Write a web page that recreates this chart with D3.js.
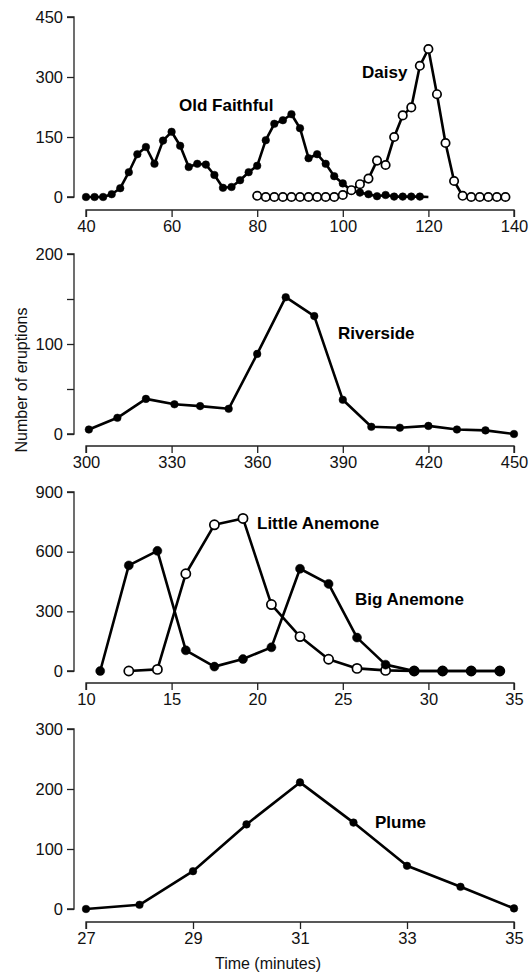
<!DOCTYPE html>
<html><head><meta charset="utf-8">
<script src="https://cdn.jsdelivr.net/npm/d3@7"></script>
<style>
body{margin:0;background:#fff;}
svg{display:block;font-family:"Liberation Sans",Arial,Helvetica,sans-serif;}
</style></head><body>
<svg id="c" width="532" height="972"></svg>
<script>
// ---------- data ----------
const ofX = [40,42,44,46,48,50,52,54,56,58,60,62,64,66,68,70,72,74,76,78,80,82,84,86,88,90,92,94,96,98,100,102,104,106,108,110,112,114,116,118,120];
const ofY = [0,0,0,7,22,62,107,125,83,141,163,128,75,83,81,55,23,25,42,62,78,142,183,192,207,172,97,107,83,52,34,16,11,7,2,5,1,1,1,1,0];
const daisyX = [80,82,84,86,88,90,92,94,96,98,100,102,104,106,108,110,112,114,116,118,120,122,124,126,128,130,132,134,136,138];
const daisyY = [3,0,0,0,0,0,0,0,0,0,5,17,32,46,91,80,150,204,224,328,370,257,135,40,3,0,0,0,0,0];
const riverX = [301,311,321,331,340,350,360,370,380,390,400,410,420,430,440,450];
const riverY = [5,18,39,33,31,28,89,152,131,38,8,7,9,5,4,0];
const bigX = [10.83,12.5,14.17,15.83,17.5,19.17,20.83,22.5,24.17,25.83,27.5,29.17,30.83,32.5,34.17];
const bigY = [0,531,604,104,22,60,119,514,438,168,32,0,0,0,0];
const littleX = [12.5,14.17,15.83,17.5,19.17,20.83,22.5,24.17,25.83,27.5,29.17,30.83,32.5,34.17];
const littleY = [0,8,489,735,767,334,173,59,13,3,0,0,0,0];
const plumeX = [27,28,29,30,31,32,33,34,35];
const plumeY = [0,7,63,141,211,144,72,37,1];

const p1XTicks = [40,60,80,100,120,140], p1YTicks = [0,150,300,450];
const p2XTicks = [300,330,360,390,420,450], p2YTicks = [0,50,100,150,200], p2YLabels = [0,100,200];
const p3XTicks = [10,15,20,25,30,35], p3YTicks = [0,300,600,900];
const p4XTicks = [27,29,31,33,35], p4YTicks = [0,100,200,300];

// ---------- drawing ----------
const svg = d3.select("#c");
const X0 = 86, X1 = 514, AX = 74;
const INK = "#000", AXC = "#222";

function panel(cfg){
  const x = d3.scaleLinear().domain(cfg.xd).range([X0,X1]);
  const y = d3.scaleLinear().domain(cfg.yd).range(cfg.yr);
  const g = svg.append("g");
  const ya = d3.axisLeft(y).tickValues(cfg.yt).tickSize(7).tickPadding(4)
     .tickFormat(d => (cfg.yl ? (cfg.yl.includes(d) ? d : "") : d));
  const gy = g.append("g").attr("transform",`translate(${AX},0)`).call(ya);
  const xa = d3.axisBottom(x).tickValues(cfg.xt).tickSize(7).tickPadding(3);
  const gx = g.append("g").attr("transform",`translate(0,${cfg.xay})`).call(xa);
  [gy,gx].forEach(a=>{
    a.select(".domain").attr("stroke",AXC).attr("stroke-width",1.3);
    a.selectAll(".tick line").attr("stroke",AXC).attr("stroke-width",1.3);
    a.selectAll(".tick text").attr("fill","#111").style("font-size","16.5px")
      .style("font-family","'Liberation Sans',Arial,sans-serif");
  });
  gy.select(".domain").attr("d",`M-7,${y(cfg.yt[0])}H0V${y(cfg.yt[cfg.yt.length-1])}H-7`);
  gx.select(".domain").attr("d",`M${x(cfg.xt[0])},7V0H${x(cfg.xt[cfg.xt.length-1])}V7`);
  return {g,x,y};
}

function series(p, xs, ys, open, opts={}){
  const line = d3.line().x((d,i)=>p.x(xs[i])).y(d=>p.y(d));
  p.g.append("path").datum(ys).attr("d",line).attr("fill","none")
    .attr("stroke",INK).attr("stroke-width",2.6).attr("stroke-linejoin","round");
  const n = opts.markN ?? ys.length;
  p.g.selectAll(null).data(ys.slice(0,n)).join("circle")
    .attr("cx",(d,i)=>p.x(xs[i])).attr("cy",d=>p.y(d))
    .attr("r", opts.r || (open ? 4.2 : 3.8))
    .attr("fill", open ? "#fff" : INK)
    .attr("stroke",INK).attr("stroke-width", open?1.7:0.5);
}

function label(p, txt, xv, yv){
  p.g.append("text").attr("x",xv).attr("y",yv).text(txt)
   .style("font-size","17px").style("font-weight","bold").attr("fill","#000");
}

// Panel 1
const p1 = panel({xd:[40,140], yd:[0,450], yr:[197,17], xt:p1XTicks, yt:p1YTicks, xay:210});
series(p1, ofX, ofY, false, {markN: ofY.length-1});
series(p1, daisyX, daisyY, true);
label(p1,"Old Faithful",179,111);
label(p1,"Daisy",362,78);

// Panel 2
const p2 = panel({xd:[300,450], yd:[0,200], yr:[434,254], xt:p2XTicks, yt:p2YTicks, yl:p2YLabels, xay:446});
series(p2, riverX, riverY, false);
label(p2,"Riverside",338,339);

// Panel 3
const p3 = panel({xd:[10,35], yd:[0,900], yr:[671,492], xt:p3XTicks, yt:p3YTicks, xay:683});
series(p3, littleX, littleY, true, {r:4.6});
series(p3, bigX, bigY, false, {r:4.5});
label(p3,"Little Anemone",257,529);
label(p3,"Big Anemone",355,605);

// Panel 4
const p4 = panel({xd:[27,35], yd:[0,300], yr:[909,729], xt:p4XTicks, yt:p4YTicks, xay:922});
series(p4, plumeX, plumeY, false);
label(p4,"Plume",375,828);

// axis titles
svg.append("text").attr("x",268).attr("y",969).attr("text-anchor","middle")
  .style("font-size","16px").attr("fill","#111").text("Time (minutes)");
svg.append("text").attr("transform","translate(27,380) rotate(-90)").attr("text-anchor","middle")
  .style("font-size","16px").attr("fill","#111").text("Number of eruptions");
</script></body></html>
